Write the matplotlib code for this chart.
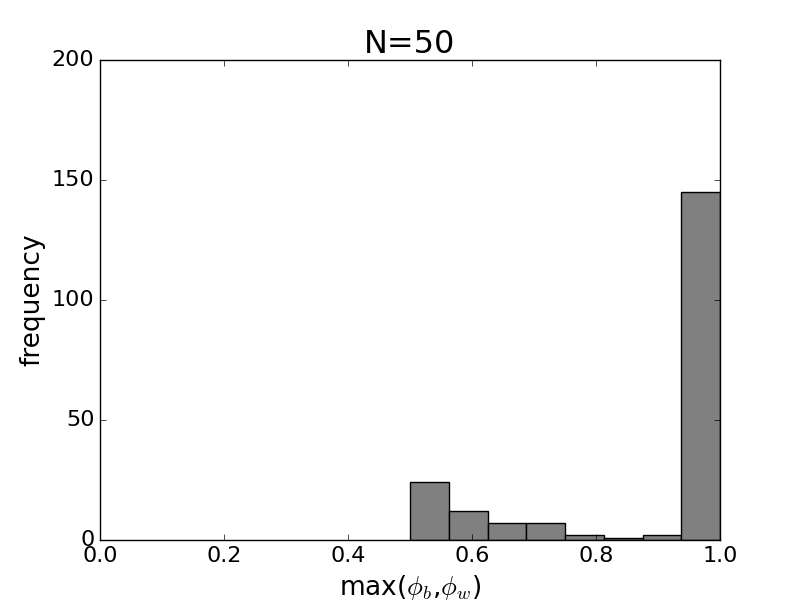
import matplotlib
matplotlib.use("Agg")
import matplotlib.pyplot as plt
import numpy as np

plt.style.use("classic")

# histogram counts, 8 equal bins from 0.5 to 1.0
bin_edges = np.linspace(0.5, 1.0, 9)
counts = [24, 12, 7, 7, 2, 1, 2, 145]

fig = plt.figure(figsize=(8, 6), dpi=100, facecolor="white")
ax = fig.add_subplot(111)
centers = (bin_edges[:-1] + bin_edges[1:]) / 2
ax.hist(centers, bins=bin_edges, weights=counts, color="0.5", edgecolor="black")

ax.set_xlim(0, 1)
ax.set_ylim(0, 200)
ax.set_xticks([0.0, 0.2, 0.4, 0.6, 0.8, 1.0])
ax.set_yticks([0, 50, 100, 150, 200])
ax.tick_params(labelsize=16)
ax.set_xlabel(r"max($\phi_b$,$\phi_w$)", fontsize=19)
ax.set_ylabel("frequency", fontsize=19)
ax.set_title("N=50", fontsize=23)

fig.savefig("out.png", dpi=100, facecolor="white")
